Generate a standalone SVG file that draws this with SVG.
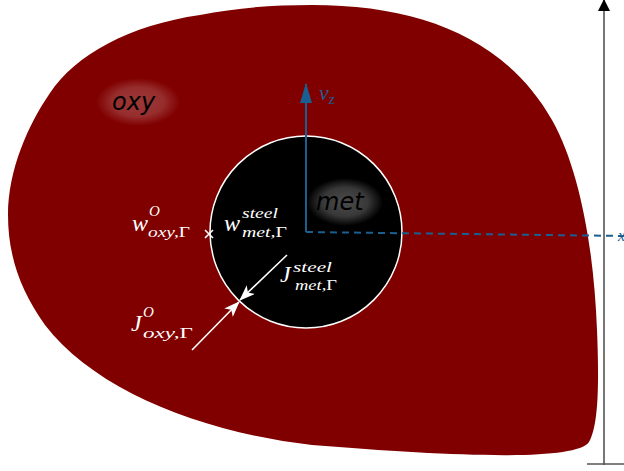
<svg xmlns="http://www.w3.org/2000/svg" width="624" height="471" viewBox="0 0 624 471">
<defs>
<style>
.m{font-family:"Liberation Serif","DejaVu Serif",serif;font-style:italic;fill:#ffffff}
.s{font-size:15px}
.up{font-style:normal}
.lab{font-family:"DejaVu Sans","Liberation Sans",sans-serif;font-style:italic;font-size:24px;fill:#000000}
.wa{stroke:#ffffff;stroke-width:1.6;fill:none}
</style>
<radialGradient id="glowR">
<stop offset="0" stop-color="#ffffff" stop-opacity="0.22"/>
<stop offset="0.6" stop-color="#ffffff" stop-opacity="0.18"/>
<stop offset="1" stop-color="#ffffff" stop-opacity="0"/>
</radialGradient>
<radialGradient id="glowB">
<stop offset="0" stop-color="#ffffff" stop-opacity="0.3"/>
<stop offset="0.6" stop-color="#ffffff" stop-opacity="0.22"/>
<stop offset="1" stop-color="#ffffff" stop-opacity="0"/>
</radialGradient>
<marker id="wh" markerWidth="16" markerHeight="12" refX="15" refY="6" orient="auto" markerUnits="userSpaceOnUse">
<path d="M0,0 L16,6 L0,12 L4,6 Z" fill="#ffffff"/>
</marker>
<marker id="bh" markerWidth="12" markerHeight="12" refX="11" refY="6" orient="auto" markerUnits="userSpaceOnUse">
<path d="M0,0 L12,6 L0,12 Z" fill="#000000"/>
</marker>
<marker id="blh" markerWidth="20" markerHeight="12" refX="19" refY="6" orient="auto" markerUnits="userSpaceOnUse">
<path d="M0,0 L20,6 L0,12 Z" fill="#1a5f92"/>
</marker>
</defs>
<rect width="624" height="471" fill="#ffffff"/>
<g id="oxy">
<path d="M312,5 C420,5 505,38 552,120 C580,170 594,250 597,330 C599,380 599,425 589,442 C575,462 450,456 312,445 C200,432 95,390 45,325 C20,290 8,255 8,215 C8,170 28,125 50,93 C75,55 130,25 200,15 C235,8 270,5 312,5 Z" fill="#800000"/>
<ellipse cx="138" cy="102" rx="42" ry="24" fill="url(#glowR)"/>
<text class="lab" x="112" y="110">oxy</text>
</g>
<g id="met">
<circle cx="306" cy="232" r="96" fill="#000000" stroke="#ffffff" stroke-width="1.5"/>
<ellipse cx="345" cy="202" rx="38" ry="24" fill="url(#glowB)"/>
<text class="lab" x="316" y="210">met</text>
</g>
<g id="connectors">
<line x1="306" y1="232" x2="306" y2="84" stroke="#1a5f92" stroke-width="2" marker-end="url(#blh)"/>
<line x1="306" y1="232" x2="624" y2="236" stroke="#1a5f92" stroke-width="2" stroke-dasharray="7,5"/>
<line x1="604" y1="465" x2="604" y2="0" stroke="#555555" stroke-width="1.6" marker-end="url(#bh)"/>
<line x1="587" y1="464" x2="624" y2="464" stroke="#555555" stroke-width="1.6"/>
<line class="wa" x1="287" y1="255" x2="240" y2="300" marker-end="url(#wh)"/>
<line class="wa" x1="192" y1="350" x2="239" y2="302" marker-end="url(#wh)"/>
<path d="M205,230 L213,238 M213,230 L205,238" stroke="#ffffff" stroke-width="1.6"/>
</g>
<g id="labels">
<text x="319" y="100" font-family="Liberation Serif,serif" font-style="italic" font-size="22" fill="#1a5f92">v<tspan font-size="15" dy="4">z</tspan></text>
<text x="618" y="241" font-family="Liberation Serif,serif" font-style="italic" font-size="16" fill="#1a5f92">x</text>
<text class="m" x="132" y="231" font-size="24">w</text>
<text class="m s" x="149" y="216">O</text>
<text class="m s" x="148" y="237" textLength="42" lengthAdjust="spacingAndGlyphs">oxy,<tspan class="up">Γ</tspan></text>
<text class="m" x="224" y="231" font-size="24">w</text>
<text class="m s" x="242" y="218" textLength="36" lengthAdjust="spacingAndGlyphs">steel</text>
<text class="m s" x="242" y="237" textLength="45" lengthAdjust="spacingAndGlyphs">met,<tspan class="up">Γ</tspan></text>
<text class="m" x="280" y="282" font-size="24">J</text>
<text class="m s" x="293" y="272" textLength="39" lengthAdjust="spacingAndGlyphs">steel</text>
<text class="m s" x="295" y="290" textLength="42" lengthAdjust="spacingAndGlyphs">met,<tspan class="up">Γ</tspan></text>
<text class="m" x="131" y="331" font-size="24">J</text>
<text class="m s" x="143" y="317">O</text>
<text class="m s" x="143" y="338" textLength="50" lengthAdjust="spacingAndGlyphs">oxy,<tspan class="up">Γ</tspan></text>
</g>
</svg>
